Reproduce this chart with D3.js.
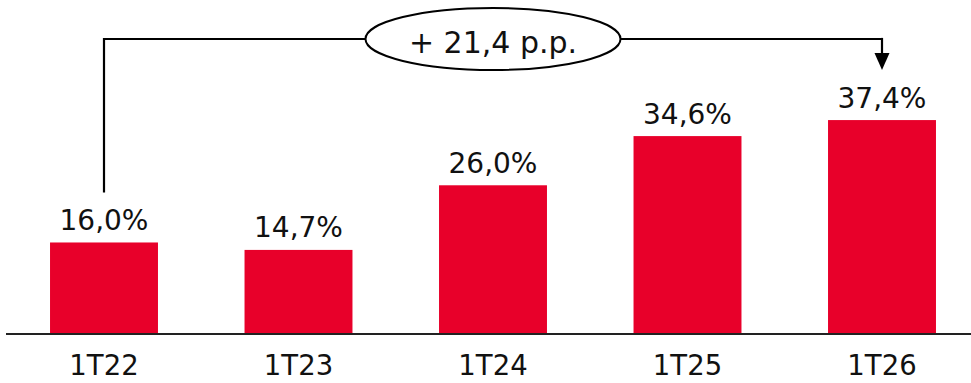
<!DOCTYPE html>
<html>
<head>
<meta charset="utf-8">
<script src="https://cdn.jsdelivr.net/npm/d3@7"></script>
<style>
  html, body { margin: 0; padding: 0; background: #fff; }
  svg { display: block; }
  text { font-family: "DejaVu Sans", sans-serif; fill: #111; }
</style>
</head>
<body>
<svg id="chart" width="971" height="383"></svg>
<script>
// Quarterly values (%)
const categories = ["1T22", "1T23", "1T24", "1T25", "1T26"];
const values = [16.0, 14.7, 26.0, 34.6, 37.4];
const valueLabels = ["16,0%", "14,7%", "26,0%", "34,6%", "37,4%"];
const deltaLabel = "+ 21,4 p.p.";

const width = 971, height = 383;
const baseY = 334;
const svg = d3.select("#chart");

const x = d3.scaleBand()
  .domain(categories)
  .range([6.75, 6.75 + 5 * 194.5])
  .paddingInner(0.445)
  .paddingOuter(0.2225);

const y = d3.scaleLinear().domain([0, 40]).range([baseY, baseY - 228.8]);

// Bars
svg.append("g").selectAll("rect")
  .data(values)
  .join("rect")
  .attr("x", (d, i) => x(categories[i]))
  .attr("y", d => y(d))
  .attr("width", x.bandwidth())
  .attr("height", d => y(0) - y(d))
  .attr("fill", "#e8002a");

// Value labels
svg.append("g").selectAll("text")
  .data(values)
  .join("text")
  .attr("x", (d, i) => x(categories[i]) + x.bandwidth() / 2)
  .attr("y", d => y(d) - 12.5)
  .attr("text-anchor", "middle")
  .attr("font-size", 28)
  .text((d, i) => valueLabels[i]);

// Category axis
const axis = svg.append("g").attr("transform", `translate(0,${baseY})`)
  .call(d3.axisBottom(x).tickSize(0).tickPadding(0));
axis.select(".domain").remove();
axis.selectAll("text")
  .attr("font-size", 27.5)
  .attr("dy", 0)
  .attr("y", 41)
  .style("font-family", "DejaVu Sans, sans-serif")
  .attr("fill", "#111");
svg.append("line")
  .attr("x1", 6).attr("x2", 971)
  .attr("y1", baseY).attr("y2", baseY)
  .attr("stroke", "#222").attr("stroke-width", 2);

// Growth bracket from first to last quarter
const xa = x(categories[0]) + x.bandwidth() / 2;
const xb = x(categories[categories.length - 1]) + x.bandwidth() / 2;
const bracketY = 39;
const ell = { cx: 493, rx: 127.5, ry: 31 };

svg.append("path")
  .attr("d", `M${xa},${y(values[0]) - 50} V${bracketY} H${ell.cx - ell.rx}`)
  .attr("fill", "none").attr("stroke", "#000").attr("stroke-width", 2.2);

svg.append("line")
  .attr("x1", ell.cx + ell.rx).attr("y1", bracketY)
  .attr("x2", xb).attr("y2", bracketY)
  .attr("stroke", "#000").attr("stroke-width", 2.2);
svg.append("line")
  .attr("x1", xb).attr("y1", bracketY - 1.1)
  .attr("x2", xb).attr("y2", 54)
  .attr("stroke", "#000").attr("stroke-width", 2.2);
svg.append("path")
  .attr("d", `M${xb - 7.5},53 L${xb + 7.5},53 L${xb},70 Z`)
  .attr("fill", "#000");

svg.append("ellipse")
  .attr("cx", ell.cx).attr("cy", bracketY)
  .attr("rx", ell.rx).attr("ry", ell.ry)
  .attr("fill", "#fff").attr("stroke", "#000").attr("stroke-width", 2);

svg.append("text")
  .attr("x", ell.cx).attr("y", 53)
  .attr("text-anchor", "middle")
  .attr("font-size", 30)
  .text(deltaLabel);
</script>
</body>
</html>
